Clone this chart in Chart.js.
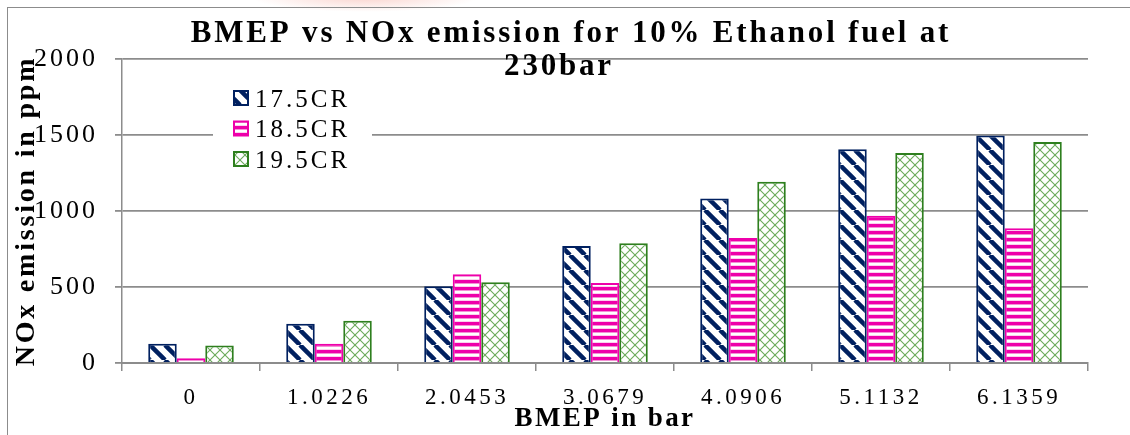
<!DOCTYPE html>
<html>
<head>
<meta charset="utf-8">
<script src="https://cdn.jsdelivr.net/npm/chart.js@4.4.1/dist/chart.umd.min.js"></script>
<style>
  html, body { margin: 0; padding: 0; background: #fff; }
  #wrap { position: relative; width: 1130px; height: 435px; overflow: hidden; }
  #frame { position: absolute; left: 7px; top: 7px; width: 1140px; height: 440px;
           border-top: 1.5px solid #8c8c8c; border-left: 1.5px solid #8c8c8c; }
  #mark { position: absolute; left: 250px; top: -18px; width: 230px; height: 30px; border-radius: 50%;
          background: radial-gradient(ellipse at center, rgba(240,110,90,0.30), rgba(240,110,90,0) 70%); }
  canvas { position: absolute; left: 0; top: 0; }
</style>
</head>
<body>
<div id="wrap">
  <div id="mark"></div>
  <div id="frame"></div>
  <canvas id="chart" width="1130" height="435"></canvas>
</div>
<script>
// data
const categories = ['0', '1.0226', '2.0453', '3.0679', '4.0906', '5.1132', '6.1359'];
const seriesNames = ['17.5CR', '18.5CR', '19.5CR'];
const cr175 = [127, 259, 505, 770, 1083, 1406, 1496];
const cr185 = [32, 127, 584, 527, 823, 968, 887];
const cr195 = [115, 278, 531, 788, 1193, 1382, 1454];
const yTicks = [0, 500, 1000, 1500, 2000];
const titleLines = ['BMEP vs NOx emission for 10% Ethanol fuel at', '230bar'];
const xTitle = 'BMEP in bar';
const yTitle = 'NOx emission in ppm';

const NAVY = '#002060';
const PINK = '#EE00AA';
const GREEN = '#2E7F1E';
const GRID = '#8c8c8c';
const SERIF = '"Liberation Serif", "Times New Roman", serif';

// ---- fill patterns ----
function makeTile(w, h, paint) {
  const c = document.createElement('canvas');
  c.width = w; c.height = h;
  const g = c.getContext('2d');
  g.fillStyle = '#fff';
  g.fillRect(0, 0, w, h);
  paint(g);
  return document.createElement('canvas').getContext('2d').createPattern(c, 'repeat');
}
const navyFill = makeTile(15, 15, (g) => {
  g.strokeStyle = NAVY;
  g.lineWidth = 4.5;
  for (const c of [-15, 0, 15]) {
    g.beginPath(); g.moveTo(c, 0); g.lineTo(c + 15, 15); g.stroke();
  }
});
const pinkFill = makeTile(8, 7, (g) => {
  g.fillStyle = PINK; g.fillRect(0, 0, 8, 3);
  g.fillStyle = '#f58fd6'; g.fillRect(0, 3, 8, 1);
  g.fillStyle = '#fbd0ee'; g.fillRect(0, 6, 8, 1);
});
const greenFill = makeTile(10, 10, (g) => {
  g.strokeStyle = '#6aa95a';
  g.lineWidth = 1.1;
  g.beginPath(); g.moveTo(0, 0); g.lineTo(10, 10); g.stroke();
  g.beginPath(); g.moveTo(10, 0); g.lineTo(0, 10); g.stroke();
});
const fills = [navyFill, pinkFill, greenFill];
const edges = [NAVY, PINK, GREEN];

// ---- title + key drawn on top ----
const titleAndKey = {
  id: 'titleAndKey',
  afterDraw(chart) {
    const ctx = chart.ctx;
    ctx.save();
    ctx.fillStyle = '#000';
    ctx.font = 'bold 31px ' + SERIF;
    ctx.letterSpacing = '2.8px';
    ctx.textAlign = 'center';
    ctx.textBaseline = 'alphabetic';
    ctx.fillText(titleLines[0], 571, 42);
    ctx.fillText(titleLines[1], 559, 75);

    // key
    ctx.letterSpacing = '0px';
    ctx.fillStyle = '#fff';
    ctx.fillRect(213, 82, 159, 88);
    ctx.font = '25px ' + SERIF;
    ctx.letterSpacing = '3px';
    ctx.textAlign = 'left';
    chart.data.datasets.forEach((ds, i) => {
      const yc = 98 + i * 30.5;
      ctx.fillStyle = fills[i];
      ctx.fillRect(234, yc - 7, 14, 14);
      ctx.strokeStyle = edges[i];
      ctx.lineWidth = 2;
      ctx.strokeRect(234, yc - 7, 14, 14);
      ctx.fillStyle = '#000';
      ctx.fillText(ds.label, 255, yc + 8.5);
    });
    ctx.restore();
  }
};

// letter spacing for the axis texts
function spaceOut(scale, labelGap, titleGap) {
  if (scale._spaced) return;
  scale._spaced = true;
  const drawLabels = scale.drawLabels;
  const drawTitle = scale.drawTitle;
  scale.drawLabels = function (area) {
    this.ctx.letterSpacing = labelGap;
    drawLabels.call(this, area);
    this.ctx.letterSpacing = '0px';
  };
  scale.drawTitle = function () {
    this.ctx.letterSpacing = titleGap;
    drawTitle.call(this);
    this.ctx.letterSpacing = '0px';
  };
}
const spacing = {
  id: 'spacing',
  beforeDraw(chart) {
    spaceOut(chart.scales.x, '3.5px', '2.4px');
    spaceOut(chart.scales.y, '3px', '2.8px');
  }
};

const seriesValues = [cr175, cr185, cr195];

new Chart(document.getElementById('chart'), {
  type: 'bar',
  data: {
    labels: categories,
    datasets: seriesValues.map((vals, i) => ({
      label: seriesNames[i],
      data: vals,
      backgroundColor: fills[i],
      borderColor: edges[i],
      borderWidth: 2,
      categoryPercentage: 0.62,
      barPercentage: 1.0,
    })),
  },
  options: {
    responsive: false,
    animation: false,
    layout: { padding: { left: 0, top: 59, right: 42, bottom: 0 } },
    plugins: {
      legend: { display: false },
      title: { display: false },
      tooltip: { enabled: false },
    },
    scales: {
      x: {
        grid: { drawOnChartArea: false, color: GRID, lineWidth: 1.5, tickLength: 8 },
        border: { color: GRID, width: 2 },
        ticks: { color: '#000', font: { family: SERIF, size: 23 }, padding: 13, maxRotation: 0 },
        title: { display: true, text: xTitle, color: '#000',
                 font: { family: SERIF, size: 27, weight: 'bold' }, padding: 0 },
        afterFit(scale) { scale.height = 72; },
      },
      y: {
        min: 0,
        max: 2000,
        afterBuildTicks(scale) { scale.ticks = yTicks.map((v) => ({ value: v })); },
        grid: { color: GRID, lineWidth: 1.8, tickLength: 7 },
        border: { color: GRID, width: 1.5 },
        ticks: { color: '#000', font: { family: SERIF, size: 26 }, padding: 17,
                 callback: (v) => String(v) },
        title: { display: true, text: yTitle, color: '#000',
                 font: { family: SERIF, size: 28, weight: 'bold' }, padding: { top: 10, bottom: 0 } },
        afterFit(scale) { scale.width = 122; },
      },
    },
  },
  plugins: [spacing, titleAndKey],
});
</script>
</body>
</html>
